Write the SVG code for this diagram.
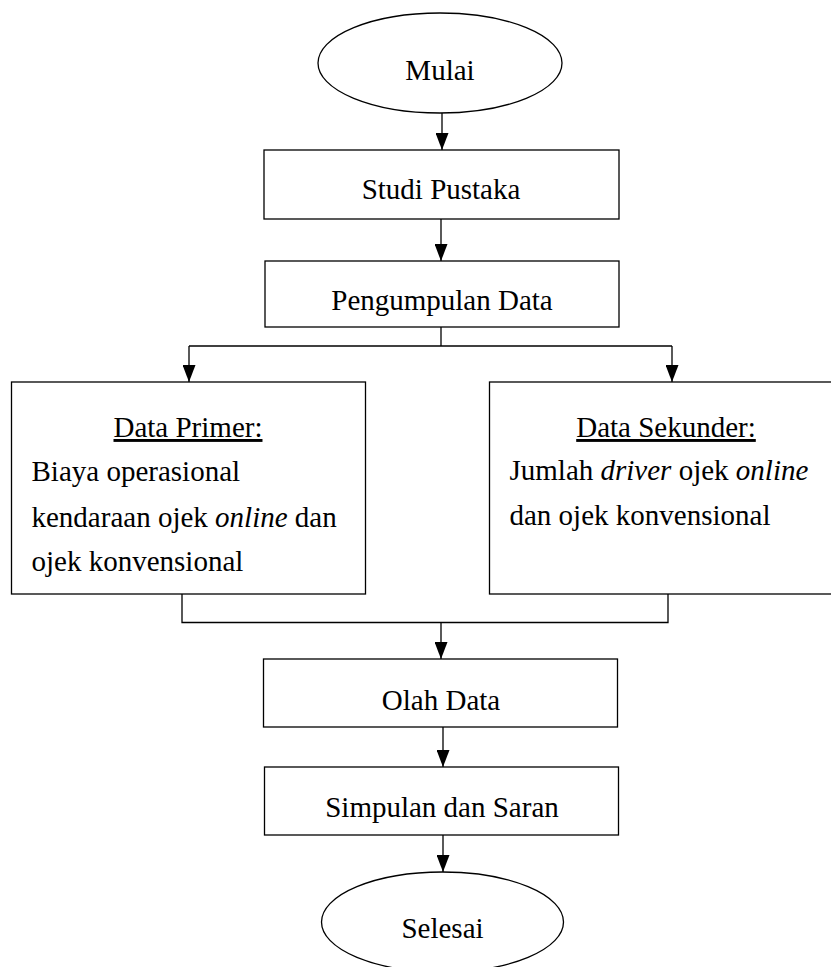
<svg xmlns="http://www.w3.org/2000/svg" width="831" height="967" viewBox="0 0 831 967">
<style>
.shape{fill:#fff;stroke:#000;stroke-width:1.3}
.conn{fill:none;stroke:#000;stroke-width:1.3}
text{font-family:"Liberation Serif","Times New Roman",serif;font-size:29px;fill:#000}
.c{text-anchor:middle}
.u{text-decoration:underline}
</style>
<defs>
<marker id="arr" markerUnits="userSpaceOnUse" markerWidth="17" markerHeight="13" refX="17" refY="6.5" orient="auto">
<path d="M0,0 L17,6.5 L0,13 z" fill="#000"/>
</marker>
</defs>
<g id="connectors">
<line class="conn" x1="442" y1="113" x2="442" y2="150" marker-end="url(#arr)"/>
<line class="conn" x1="441" y1="219" x2="441" y2="261" marker-end="url(#arr)"/>
<polyline class="conn" points="441,327 441,346"/>
<polyline class="conn" points="189,346 672,346"/>
<line class="conn" x1="189" y1="346" x2="189" y2="382" marker-end="url(#arr)"/>
<line class="conn" x1="672" y1="346" x2="672" y2="382" marker-end="url(#arr)"/>
<polyline class="conn" points="182,594 182,622.5 668,622.5 668,594"/>
<line class="conn" x1="441" y1="622.5" x2="441" y2="659" marker-end="url(#arr)"/>
<line class="conn" x1="443" y1="727" x2="443" y2="767" marker-end="url(#arr)"/>
<line class="conn" x1="443" y1="835" x2="443" y2="872" marker-end="url(#arr)"/>
</g>
<g id="mulai">
<ellipse class="shape" cx="440" cy="63" rx="122" ry="50"/>
<text class="c" x="440" y="80">Mulai</text>
</g>
<g id="studi-pustaka">
<rect class="shape" x="264" y="150" width="355" height="69"/>
<text class="c" x="441" y="199">Studi Pustaka</text>
</g>
<g id="pengumpulan-data">
<rect class="shape" x="265" y="261" width="354" height="66"/>
<text class="c" x="442" y="310">Pengumpulan Data</text>
</g>
<g id="data-primer">
<rect class="shape" x="11.5" y="382" width="354" height="212"/>
<text class="c u" x="188" y="437">Data Primer:</text>
<text x="31.5" y="481">Biaya operasional</text>
<text x="31.5" y="527">kendaraan ojek <tspan font-style="italic">online</tspan> dan</text>
<text x="31.5" y="571">ojek konvensional</text>
</g>
<g id="data-sekunder">
<rect class="shape" x="489.5" y="382" width="354" height="212"/>
<text class="c u" x="666" y="437">Data Sekunder:</text>
<text x="509.5" y="480">Jumlah <tspan font-style="italic">driver</tspan> ojek <tspan font-style="italic">online</tspan></text>
<text x="509.5" y="525">dan ojek konvensional</text>
</g>
<g id="olah-data">
<rect class="shape" x="263.5" y="659" width="354" height="68"/>
<text class="c" x="441" y="710">Olah Data</text>
</g>
<g id="simpulan-saran">
<rect class="shape" x="264.5" y="767" width="354" height="68"/>
<text class="c" x="442" y="817">Simpulan dan Saran</text>
</g>
<g id="selesai">
<ellipse class="shape" cx="442.5" cy="922" rx="121" ry="50"/>
<text class="c" x="442.5" y="938">Selesai</text>
</g>
</svg>
